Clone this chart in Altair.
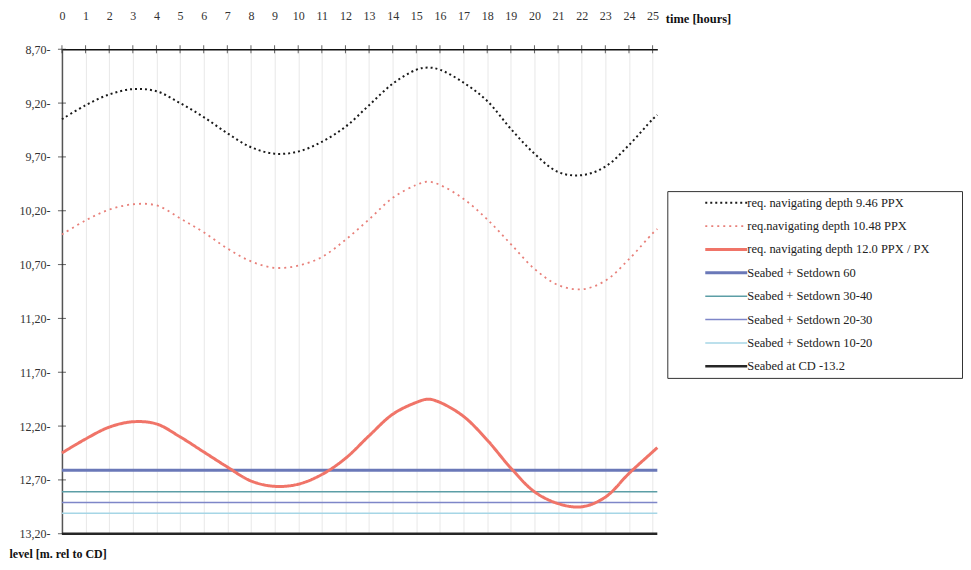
import altair as alt
import pandas as pd

# ---- data ----
hours = [0, 1, 2, 3, 4, 5, 6, 7, 8, 9, 10, 11, 12, 13, 14, 15, 15.5, 16, 17, 18, 19, 20, 21, 22, 23, 24, 25, 25.2]

depth_946 = [9.35, 9.22, 9.12, 9.07, 9.09, 9.20, 9.33, 9.48, 9.61, 9.67, 9.65, 9.56, 9.42, 9.22,
             9.02, 8.89, 8.87, 8.89, 9.01, 9.18, 9.44, 9.67, 9.84, 9.87, 9.79, 9.59, 9.35, 9.31]
depth_1048 = [10.42, 10.29, 10.19, 10.14, 10.15, 10.27, 10.40, 10.55, 10.67, 10.73, 10.71, 10.63, 10.47, 10.28,
              10.08, 9.96, 9.93, 9.96, 10.09, 10.28, 10.51, 10.74, 10.89, 10.93, 10.85, 10.65, 10.41, 10.37]
depth_120 = [12.45, 12.32, 12.21, 12.16, 12.18, 12.30, 12.44, 12.58, 12.71, 12.76, 12.74, 12.65, 12.50, 12.29,
             12.09, 11.98, 11.95, 11.98, 12.11, 12.33, 12.59, 12.81, 12.92, 12.95, 12.86, 12.64, 12.44, 12.40]

curve_names = ["req. navigating depth 9.46 PPX",
               "req.navigating depth 10.48 PPX",
               "req. navigating depth 12.0 PPX / PX"]

level_names = ["Seabed + Setdown 60",
               "Seabed + Setdown 30-40",
               "Seabed + Setdown 20-30",
               "Seabed + Setdown 10-20",
               "Seabed at CD -13.2"]
level_values = [12.61, 12.81, 12.91, 13.01, 13.20]

hour_ticks = list(range(0, 26))
level_ticks = [8.70, 9.20, 9.70, 10.20, 10.70, 11.20, 11.70, 12.20, 12.70, 13.20]

series_names = curve_names + level_names

# ---- styles ----
colors = ["#1a1a1a", "#e8807a", "#f07468", "#6a78b8", "#5c9ea6", "#7e86c8", "#a6d6e6", "#262626"]
dashes = [[2, 3], [2, 4], [1, 0], [1, 0], [1, 0], [1, 0], [1, 0], [1, 0]]
widths = [2, 1.8, 3, 3, 1.5, 1.5, 1.5, 2.5]
SERIF = "Liberation Serif"

curve_rows = []
for name, vals in zip(curve_names, [depth_946, depth_1048, depth_120]):
    for h, v in zip(hours, vals):
        curve_rows.append({"series": name, "hour": h, "level": v})
curves_df = pd.DataFrame(curve_rows)

level_rows = []
for name, lv in zip(level_names, level_values):
    for h in (hours[0], hours[-1]):
        level_rows.append({"series": name, "hour": h, "level": lv})
levels_df = pd.DataFrame(level_rows)

color_scale = alt.Scale(domain=series_names, range=colors)
dash_scale = alt.Scale(domain=series_names, range=dashes)
width_scale = alt.Scale(type="ordinal", domain=series_names, range=widths)

x_axis = alt.Axis(orient="top", values=hour_ticks, tickSize=0, labelPadding=27,
                  labelFont=SERIF, labelFontSize=12, labelColor="#333", labelOverlap=False,
                  domainColor="#111", domainWidth=1.5,
                  grid=True, gridColor="#e8e8e8", gridWidth=1,
                  title="time [hours]", titleFont=SERIF, titleFontSize=12.5,
                  titleFontWeight="bold", titleColor="#111",
                  titleX=604, titleY=-31, titleAlign="left", titleBaseline="middle",
                  titleAngle=0, labelFlush=False)
y_axis = alt.Axis(orient="left", values=level_ticks, tickSize=0, labelPadding=12,
                  labelExpr="replace(format(datum.value, '.2f'), '.', ',') + '-'",
                  labelFont=SERIF, labelFontSize=12, labelColor="#333", labelOverlap=False,
                  domainColor="#555", domainWidth=1.5, grid=False,
                  title="level [m. rel to CD]", titleFont=SERIF, titleFontSize=12,
                  titleFontWeight="bold", titleColor="#111",
                  titleX=-53, titleY=505, titleAlign="left", titleBaseline="middle",
                  titleAngle=0, labelFlush=False)

x_enc = alt.X("hour:Q", scale=alt.Scale(domain=[0, 25.2], nice=False, zero=False), axis=x_axis)
y_enc = alt.Y("level:Q", scale=alt.Scale(domain=[8.7, 13.2], reverse=True, nice=False, zero=False), axis=y_axis)


def styled(base):
    return base.encode(
        x=x_enc, y=y_enc,
        color=alt.Color("series:N", scale=color_scale, legend=None),
        strokeDash=alt.StrokeDash("series:N", scale=dash_scale, legend=None),
        strokeWidth=alt.StrokeWidth("series:N", scale=width_scale, legend=None),
    )


hlines = styled(alt.Chart(levels_df).mark_line())
curves = styled(alt.Chart(curves_df).mark_line(interpolate="catmull-rom"))

# crossing tick marks on the two axis lines
top_ticks = alt.Chart(pd.DataFrame({"hour": hour_ticks})).mark_tick(
    orient="vertical", size=8, thickness=1, color="#222"
).encode(x=x_enc, y=alt.value(0))

left_ticks = alt.Chart(pd.DataFrame({"level": level_ticks})).mark_tick(
    orient="horizontal", size=8, thickness=1, color="#222"
).encode(x=alt.value(0), y=y_enc)

main = alt.layer(hlines, curves, top_ticks, left_ticks).properties(
    width=596, height=485, view=alt.ViewBackground(stroke="transparent"))

# ---- legend panel ----
leg_df = pd.DataFrame({"series": series_names})
leg_y = alt.Y("series:N", sort=series_names,
              scale=alt.Scale(type="point", padding=0.5, domain=series_names), axis=None)
leg_rules = alt.Chart(leg_df).mark_rule().encode(
    x=alt.value(38), x2=alt.value(80), y=leg_y,
    color=alt.Color("series:N", scale=color_scale, legend=None),
    strokeDash=alt.StrokeDash("series:N", scale=dash_scale, legend=None),
    strokeWidth=alt.StrokeWidth("series:N", scale=width_scale, legend=None),
)
leg_text = alt.Chart(leg_df).mark_text(
    align="left", baseline="middle", font=SERIF, fontSize=12.5, color="#222"
).encode(x=alt.value(80), y=leg_y, text="series:N")

legend = alt.layer(leg_rules, leg_text).properties(
    width=295, height=187, view=alt.ViewBackground(stroke="#333", strokeWidth=1))

spacer = alt.Chart(leg_df).mark_point(opacity=0).encode(
    x=alt.value(0), y=alt.value(0)
).properties(width=295, height=142, view=alt.ViewBackground(stroke="transparent"))

right = alt.vconcat(spacer, legend, spacing=0, bounds="flush")

chart = alt.hconcat(main, right, spacing=10, bounds="flush").properties(
    padding={"left": 0, "top": 0, "right": 0, "bottom": 0}
).configure_view(stroke="transparent")

chart.save("out.html", embed_options={"renderer": "svg", "actions": False})
